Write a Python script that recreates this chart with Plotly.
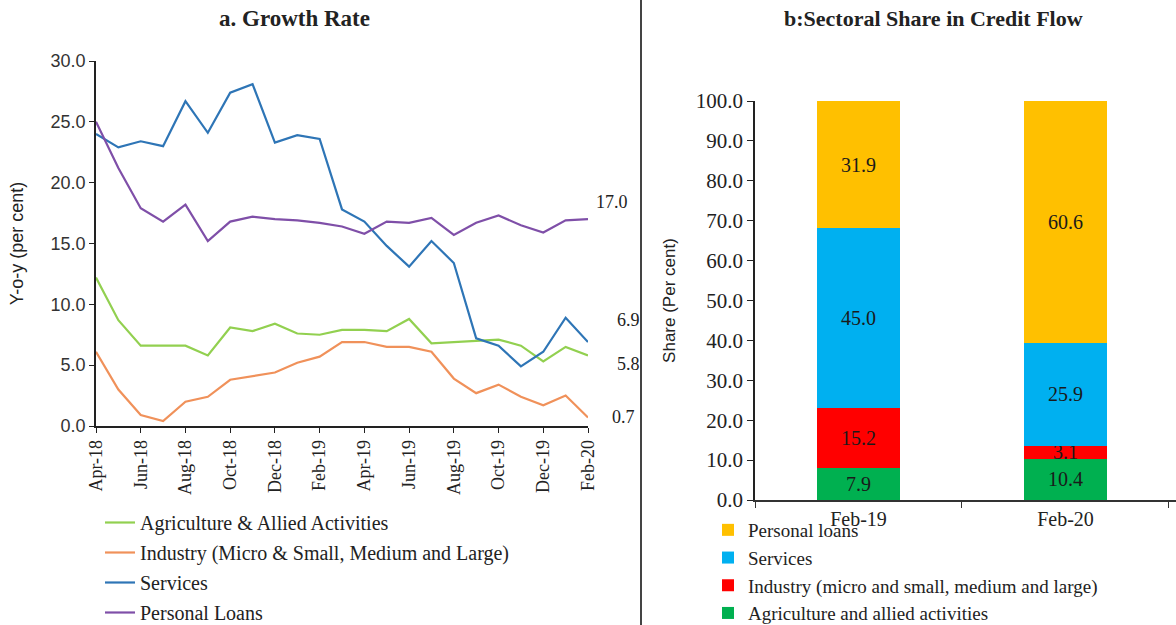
import plotly.graph_objects as go

# ---- panel a: year-on-year growth of bank credit by sector ----
months = ["Apr-18", "May-18", "Jun-18", "Jul-18", "Aug-18", "Sep-18", "Oct-18", "Nov-18",
          "Dec-18", "Jan-19", "Feb-19", "Mar-19", "Apr-19", "May-19", "Jun-19", "Jul-19",
          "Aug-19", "Sep-19", "Oct-19", "Nov-19", "Dec-19", "Jan-20", "Feb-20"]

agriculture = [12.2, 8.7, 6.6, 6.6, 6.6, 5.8, 8.1, 7.8, 8.4, 7.6, 7.5, 7.9,
               7.9, 7.8, 8.8, 6.8, 6.9, 7.0, 7.1, 6.6, 5.3, 6.5, 5.8]
industry = [6.1, 3.0, 0.9, 0.4, 2.0, 2.4, 3.8, 4.1, 4.4, 5.2, 5.7, 6.9,
            6.9, 6.5, 6.5, 6.1, 3.9, 2.7, 3.4, 2.4, 1.7, 2.5, 0.7]
services = [24.0, 22.9, 23.4, 23.0, 26.7, 24.1, 27.4, 28.1, 23.3, 23.9, 23.6, 17.8,
            16.8, 14.8, 13.1, 15.2, 13.4, 7.2, 6.6, 4.9, 6.1, 8.9, 6.9]
personal = [25.0, 21.2, 17.9, 16.8, 18.2, 15.2, 16.8, 17.2, 17.0, 16.9, 16.7, 16.4,
            15.8, 16.8, 16.7, 17.1, 15.7, 16.7, 17.3, 16.5, 15.9, 16.9, 17.0]

line_names = ["Agriculture & Allied Activities",
              "Industry (Micro & Small, Medium and Large)",
              "Services",
              "Personal Loans"]
line_colors = ["#92D050", "#F0915A", "#2E75B6", "#7F4FA8"]

# ---- panel b: sectoral share in incremental credit flow ----
periods = ["Feb-19", "Feb-20"]
share_agri = [7.9, 10.4]
share_industry = [15.2, 3.1]
share_services = [45.0, 25.9]
share_personal = [31.9, 60.6]

bar_names = ["Agriculture and allied activities",
             "Industry (micro and small, medium and large)",
             "Services",
             "Personal loans"]
bar_colors = ["#00B050", "#FF0000", "#00B0F0", "#FFC000"]

SERIF = "Liberation Serif, Times New Roman, serif"
SANS = "Liberation Sans, Arial, sans-serif"
W, H = 1176, 625

fig = go.Figure()

idx = list(range(len(months)))
for name, vals, col in zip(line_names, [agriculture, industry, services, personal], line_colors):
    fig.add_trace(go.Scatter(
        x=idx, y=vals, mode="lines", name=name,
        line=dict(color=col, width=2.2),
        xaxis="x", yaxis="y", legend="legend", legendgroup=name,
    ))

# stacked bottom-to-top; the legend lists the top segment first
n_bars = len(bar_names)
for k, (name, vals, col) in enumerate(zip(bar_names, [share_agri, share_industry, share_services, share_personal], bar_colors)):
    fig.add_trace(go.Bar(
        x=periods, y=vals, name=name, marker=dict(color=col, line=dict(width=0)),
        text=[f"{v:.1f}" for v in vals], textposition="inside", insidetextanchor="middle",
        textangle=0, constraintext="none",
        textfont=dict(family=SERIF, size=20, color="#1a1a1a"),
        xaxis="x2", yaxis="y2", legend="legend2", legendgroup=name,
        legendrank=1000 + (n_bars - k),
        hoverinfo="skip",
    ))

# end-of-series value labels on panel a
last = len(months) - 1
end_labels = [
    (personal[-1], 24, 17),
    (services[-1], 40, 22),
    (agriculture[-1], 40, -9),
    (industry[-1], 35, 0),
]
annotations = []
for val, dx, dy in end_labels:
    annotations.append(dict(
        x=last, y=val, xref="x", yref="y", text=f"{val:.1f}", showarrow=False,
        xanchor="center", yanchor="middle",
        xshift=dx, yshift=dy, font=dict(family=SERIF, size=18, color="#222"),
    ))

annotations += [
    dict(text="<b>a. Growth Rate</b>", x=295 / W, y=1 - 18 / H, xref="paper", yref="paper",
         xanchor="center", yanchor="middle", showarrow=False,
         font=dict(family=SERIF, size=23, color="#222")),
    dict(text="<b>b:Sectoral Share in Credit Flow</b>", x=933 / W, y=1 - 18 / H,
         xref="paper", yref="paper", xanchor="center", yanchor="middle", showarrow=False,
         font=dict(family=SERIF, size=22, color="#222")),
]

tick_idx = idx[::2]
fig.update_layout(
    width=W, height=H, margin=dict(l=0, r=0, t=0, b=0, autoexpand=False),
    paper_bgcolor="white", plot_bgcolor="white",
    barmode="stack", bargap=0.6,
    showlegend=True,
    xaxis=dict(
        domain=[96 / W, 588 / W], range=[0, last], anchor="y",
        tickmode="array", tickvals=tick_idx, ticktext=[months[i] for i in tick_idx],
        tickangle=-90, ticks="outside", ticklen=5, tickcolor="#222",
        showline=True, linecolor="#222", linewidth=1.5, showgrid=False, zeroline=False,
        tickfont=dict(family=SERIF, size=18, color="#222"), automargin=False,
    ),
    yaxis=dict(
        domain=[(H - 426) / H, (H - 61) / H], range=[0, 30], dtick=5, tickformat=".1f",
        anchor="x", ticks="outside", ticklen=5, tickcolor="#222",
        showline=True, linecolor="#222", linewidth=1.5, showgrid=False, zeroline=False,
        tickfont=dict(family=SANS, size=18, color="#333"), automargin=False,
        title=dict(text="Y-o-y (per cent)", standoff=22,
                   font=dict(family=SANS, size=18, color="#222")),
    ),
    xaxis2=dict(
        domain=[755 / W, 1.0], range=[-0.5, 1.534], anchor="y2", type="category",
        tickson="boundaries", ticks="outside", ticklen=6, tickcolor="#333",
        showline=True, linecolor="#333", linewidth=1.5, showgrid=False, zeroline=False,
        tickfont=dict(family=SERIF, size=20, color="#222"), automargin=False,
    ),
    yaxis2=dict(
        domain=[(H - 500) / H, (H - 101) / H], range=[0, 100], dtick=10, tickformat=".1f",
        anchor="x2", ticks="outside", ticklen=6, tickcolor="#222",
        showline=True, linecolor="#222", linewidth=1.5, showgrid=False, zeroline=False,
        tickfont=dict(family=SERIF, size=21, color="#222"), automargin=False,
        title=dict(text="Share (Per cent)", standoff=16,
                   font=dict(family=SANS, size=17, color="#222")),
    ),
    legend=dict(
        x=100 / W, y=1 - 503 / H, xanchor="left", yanchor="top",
        traceorder="grouped", tracegroupgap=1,
        font=dict(family=SERIF, size=20, color="#222"),
        bgcolor="rgba(0,0,0,0)", itemwidth=30,
    ),
    legend2=dict(
        x=708 / W, y=1 - 511 / H, xanchor="left", yanchor="top",
        traceorder="grouped", tracegroupgap=0,
        font=dict(family=SERIF, size=19, color="#222"),
        bgcolor="rgba(0,0,0,0)", itemwidth=30,
    ),
    annotations=annotations,
    shapes=[dict(type="line", xref="paper", yref="paper", x0=641 / W, x1=641 / W,
                 y0=0, y1=1, line=dict(color="#444", width=2))],
)

fig.write_html("out.html")
